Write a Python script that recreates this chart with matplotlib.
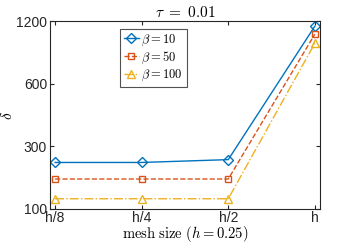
import matplotlib
matplotlib.use("Agg")
import matplotlib.pyplot as plt

plt.rcParams["mathtext.fontset"] = "cm"
plt.rcParams["font.family"] = "Liberation Sans"

mesh_labels = ["h/8", "h/4", "h/2", "h"]
beta_10 = [251, 251, 259, 1134]
beta_50 = [209, 209, 209, 1038]
beta_100 = [168, 168, 168, 938]

ytick_pos = [150, 300, 600, 1200]
ytick_labels = ["100", "300", "600", "1200"]

blue, orange, yellow = "#0072BD", "#D95319", "#EDB120"

fig = plt.figure(figsize=(3.54, 2.45), dpi=100)
ax = fig.add_axes([0.141, 0.147, 0.763, 0.767])

x = range(1, len(mesh_labels) + 1)
ax.plot(x, beta_10, "-", color=blue, marker="D", ms=5, mfc="none", mew=1, lw=1, label=r"$\beta = 10$")
ax.plot(x, beta_50, "--", color=orange, marker="s", ms=5, mfc="none", mew=1, lw=1, label=r"$\beta = 50$")
ax.plot(x, beta_100, "-.", color=yellow, marker="^", ms=6, mfc="none", mew=1, lw=1, label=r"$\beta = 100$")

ax.set_yscale("log")
ax.set_ylim(150, 1200)
ax.set_yticks(ytick_pos)
ax.set_yticklabels(ytick_labels)
ax.minorticks_off()
ax.set_xlim(0.94, 4.06)
ax.set_xticks(list(x))
ax.set_xticklabels(mesh_labels)

ax.tick_params(direction="in", top=True, right=True, length=3, labelsize=10, colors="#262626", pad=2)
ax.tick_params(axis="x", pad=1.5)
for s in ax.spines.values():
    s.set_color("#262626")
    s.set_linewidth(0.8)

ax.set_title(r"$\tau\ =\ 0.01$", fontsize=11, pad=3)
ax.set_xlabel(r"$\mathrm{mesh\ size}\ (h = 0.25)$", fontsize=10.5, labelpad=-0.5)
ax.set_ylabel(r"$\delta$", fontsize=11, labelpad=1)

leg = ax.legend(loc="upper left", bbox_to_anchor=(0.26, 0.96), fontsize=9, frameon=True, fancybox=False,
                edgecolor="#262626", handlelength=1.2, handletextpad=0.2, borderpad=0.3, labelspacing=0.15,
                borderaxespad=0)
leg.get_frame().set_linewidth(0.8)

fig.savefig("out.png", dpi=100)
